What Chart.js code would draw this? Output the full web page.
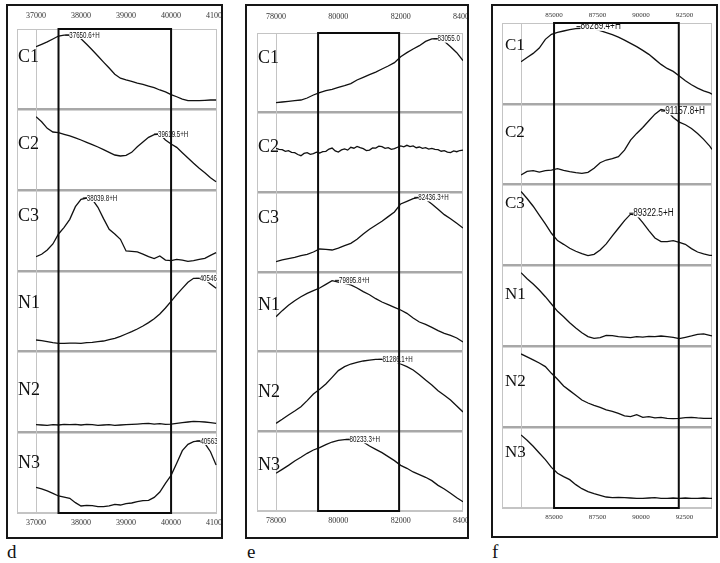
<!DOCTYPE html>
<html>
<head>
<meta charset="utf-8">
<script src="https://cdn.jsdelivr.net/npm/chart.js@4.4.0/dist/chart.umd.min.js"></script>
<style>
  body { margin: 0; background: #fff; width: 720px; height: 563px; position: relative; overflow: hidden; }
  .panel { position: absolute; border: 2px solid #161616; background: #fff; }
  .panel canvas { display: block; }
  .tag { position: absolute; font: 19px/19px "Liberation Serif", serif; color: #111; }
</style>
</head>
<body>
<div class="panel" style="left:6px;top:4px"><canvas id="pd" width="213" height="531"></canvas></div>
<div class="panel" style="left:245px;top:4px"><canvas id="pe" width="220" height="531"></canvas></div>
<div class="panel" style="left:491px;top:4px"><canvas id="pf" width="223" height="530"></canvas></div>
<div class="tag" style="left:7px;top:542px">d</div>
<div class="tag" style="left:247px;top:542px">e</div>
<div class="tag" style="left:492px;top:542px">f</div>

<script>
// rows of every panel, top to bottom
var rowNames = ['C1', 'C2', 'C3', 'N1', 'N2', 'N3'];

// panel d  (values are % of the row height)
var dTicks = [37000, 38000, 39000, 40000, 41000];
var dX = [37000, 37125, 37250, 37375, 37500, 37625, 37750, 37875, 38000, 38125, 38250, 38375, 38500, 38625, 38750, 38875, 39000,
          39125, 39250, 39375, 39500, 39625, 39750, 39875, 40000, 40125, 40250, 40375, 40500, 40625, 40750, 40875, 41000];
var dC1 = [78, 81, 84, 87.6, 91.3, 92.5, 92.5, 91.3, 88, 81, 74, 66.5, 59, 51.6, 44, 39, 36.8, 35, 33, 31.4, 29.3, 27.3, 24.4, 22, 18.6, 16, 13.2, 11.2, 11.2, 11.2, 11.6, 12, 12];
var dC2 = [91.3, 85, 76.9, 72.3, 71.5, 69.4, 67.4, 64.9, 62.4, 59.5, 56.6, 53.7, 50.4, 47.1, 43.8, 42.6, 43.4, 47.1, 54.1, 59.9, 65.7, 69, 69.8, 62.4, 57.4, 53.3, 46.7, 40, 33.5, 27.3, 21.9, 15.7, 10.7];
var dC3 = [17.8, 20.7, 26, 33.5, 45.9, 54.1, 64, 79.8, 88.8, 90.5, 88.8, 79, 64.9, 51.7, 45.9, 39.3, 24.8, 24.4, 23.6, 21, 17.8, 15.3, 18.6, 13.6, 12.8, 14.5, 13.6, 12, 12.8, 14.5, 15.7, 19.4, 22.7];
var dN1 = [14.5, 13.6, 12.4, 11.2, 10.3, 10.3, 10.7, 10.7, 10.3, 11.2, 11.6, 12.4, 13.2, 14.9, 16.5, 19, 21.9, 24.8, 28.1, 31.8, 36, 40.9, 46.7, 54.1, 62.4, 70.7, 78.5, 86, 90.9, 90.9, 89.7, 83.9, 78.5];
var dN2 = [9.5, 9.1, 8.7, 9.5, 9.1, 9.9, 9.5, 9.9, 9.1, 9.9, 9.5, 8.7, 9.1, 9.5, 8.7, 9.1, 9.5, 9.9, 10.3, 10.7, 11.2, 10.3, 10.7, 9.9, 10.3, 11.2, 12, 12.8, 13.6, 13.2, 12.8, 12, 11.2];
var dN3 = [31.8, 29.8, 27.3, 24.4, 21.1, 19.8, 18.2, 12.8, 8.7, 9.5, 9.1, 7.9, 7.9, 8.7, 10.7, 9.9, 11.6, 12.4, 14, 15.3, 15.7, 19.4, 26, 36.8, 46.7, 61.6, 77.3, 85.1, 88.4, 89.3, 86.4, 76, 59.5];
var dPeaks = [[0, 37650.6, 92.5, '37650.6+H'], [1, 39619.5, 69.8, '39619.5+H'], [2, 38039.8, 90.5, '38039.8+H'], [3, 40546, 90.9, '40546'], [5, 40563, 89.3, '40563']];
var dBox = [37500, 40000];

// panel e
var eTicks = [78000, 80000, 82000, 84000];
var eX = [78000, 78200, 78400, 78600, 78800, 79000, 79200, 79400, 79600, 79800, 80000, 80200, 80400, 80600, 80800, 81000,
          81200, 81400, 81600, 81800, 82000, 82200, 82400, 82600, 82800, 83000, 83200, 83400, 83600, 83800, 84000];
var eC1 = [12.6, 13.4, 14.2, 15.1, 15.9, 18.4, 22.2, 25.1, 27.6, 29.3, 31.8, 33.9, 36.4, 41, 44.4, 47.7, 51, 54.8, 58.6, 62.8, 70.3, 75.3, 79.9, 84.1, 89.5, 92.5, 92.9, 89.5, 82.8, 75.3, 65.3];
// C2 is a noisy trace, read on a finer step
var eC2X = [78000, 78100, 78200, 78300, 78400, 78500, 78600, 78700, 78800, 78900, 79000, 79100, 79200, 79300, 79400, 79500,
            79600, 79700, 79800, 79900, 80000, 80100, 80200, 80300, 80400, 80500, 80600, 80700, 80800, 80900, 81000, 81100,
            81200, 81300, 81400, 81500, 81600, 81700, 81800, 81900, 82000, 82100, 82200, 82300, 82400, 82500, 82600, 82700,
            82800, 82900, 83000, 83100, 83200, 83300, 83400, 83500, 83600, 83700, 83800, 83900, 84000];
var eC2 = [55.2, 54, 53.6, 51.5, 52.3, 50.2, 49.8, 47.5, 46, 48.8, 49.8, 47.6, 48.5, 50.5, 49.4, 51.2,
           51.5, 54.3, 55.6, 52, 50.6, 53.2, 54.4, 53, 56.5, 55.4, 57.7, 56, 54.8, 52.4, 53.1, 55.8,
           55.6, 57.9, 57.3, 55.2, 56.1, 54, 54.8, 56.6, 58.2, 57.2, 59, 57.4, 58.2, 56, 56.9, 55.3,
           56.1, 54.3, 55.2, 53.8, 53.6, 51.6, 52.3, 50.4, 49.8, 51.9, 51, 52.5, 53.1];
var eC3 = [13, 15.1, 16.7, 18.4, 20.5, 22.2, 25.1, 28.9, 28.5, 27.6, 30.1, 33.1, 36, 41, 47.7, 53.6, 58.6, 63.6, 69.5, 75.3, 85.4, 88.7, 92.1, 93.7, 91.2, 85.4, 78.7, 72, 66.9, 61.1, 55.2];
var eN1 = [43.9, 51.5, 58.2, 64, 69, 73.2, 76.6, 79.9, 84.5, 89.1, 87.4, 85.8, 83.7, 79.9, 75.3, 71.5, 66.5, 62.3, 59, 55.6, 52.3, 48.1, 42.3, 37.2, 34.3, 30.5, 26.4, 23, 20.5, 17.2, 12.1];
var eN2 = [10, 15.1, 20.5, 25.5, 30.8, 38.5, 46.9, 52.7, 59.4, 67.8, 76.2, 81.2, 84.5, 86.6, 88.3, 89.5, 90.4, 90.4, 89.5, 87.9, 84.5, 81.2, 77, 71.1, 64.4, 58.2, 51, 45.2, 39.3, 31.8, 24.3];
var eN3 = [47.3, 52.3, 57.3, 62.8, 67.4, 72.4, 76.6, 79.5, 83.3, 86.6, 88.7, 89.5, 90, 89.1, 86.6, 81.6, 77.4, 73.2, 68.2, 63.2, 57.3, 53.6, 49, 45.6, 42.3, 38.1, 32.2, 27.6, 22.2, 16.7, 11.7];
var ePeaks = [[0, 83055, 92.9, '83055.0'], [2, 82436.3, 93.7, '82436.3+H'], [3, 79895.8, 89.5, '79895.8+H'], [4, 81286.1, 90.4, '81286.1+H'], [5, 80233.3, 90, '80233.3+H']];
var eBox = [79350, 81950];

// panel f
var fTicks = [85000, 87500, 90000, 92500];
var fX = [83100, 83450, 83800, 84150, 84500, 84850, 85200, 85550, 85900, 86250, 86600, 86950, 87300, 87650, 88000, 88350, 88700,
          89050, 89400, 89750, 90100, 90450, 90800, 91150, 91500, 91850, 92200, 92550, 92900, 93250, 93600, 93950, 94080];
var fC1 = [52.1, 57.4, 62.4, 69, 79.8, 86, 88.4, 90.1, 91.7, 93, 93.4, 93.4, 92.6, 90.5, 88, 85.5, 82.6, 78.9, 74.8, 70.7, 66.1, 61.2, 55, 48.8, 43.8, 40.1, 34.3, 28.5, 23.6, 19.4, 16.1, 13.6, 12];
var fC2 = [11.9, 16.5, 17.3, 15.6, 17.3, 18.1, 19.8, 17.7, 16, 14.8, 14, 15.2, 20.2, 27.2, 30.5, 32.1, 34.6, 42.8, 55.1, 63.4, 70.8, 79, 87.2, 93, 91.4, 83.1, 77.4, 74.1, 69.5, 63.4, 56, 47.7, 43.6];
var fC3 = [91.5, 82.9, 73.3, 62.2, 51.4, 39.9, 30.8, 26.2, 21.3, 17.6, 14.7, 12.2, 13.8, 19.2, 26.7, 36.6, 46.1, 55.6, 63.5, 62, 53.1, 43.2, 34.1, 29.5, 29.5, 30.8, 28.7, 26.2, 20.9, 16.7, 14.3, 12.6, 12.6];
var fN1 = [91.1, 83.7, 77.1, 69.7, 61.4, 52.4, 43.3, 36.7, 29.3, 22.7, 16.9, 12, 9.9, 10.7, 13.6, 13.2, 12, 11.5, 10.7, 12, 11.5, 12.4, 12, 12.8, 12, 11.1, 9.5, 11.1, 12.8, 14.8, 15.3, 13.6, 12.8];
var fN2 = [90.6, 87, 83.2, 79.4, 74.9, 66.6, 59.2, 50.9, 45.2, 39.4, 33.6, 29.9, 27, 24.6, 21.3, 19.6, 17.1, 13.9, 13, 15.5, 12.2, 13, 11.4, 12.2, 11, 10.6, 11, 11.8, 12.2, 11.4, 11, 11, 11];
var fN3 = [90.3, 83.7, 76.3, 68.1, 59.8, 50.3, 42.9, 38.8, 35.1, 28.9, 23.9, 20.2, 17.7, 15.7, 13.6, 12.8, 13.2, 12.8, 12.4, 12, 12, 12.4, 12.8, 12, 12, 12.4, 12, 12.4, 12, 12, 12.4, 12, 12];
var fPeaks = [[0, 86289.4, 95.5, '86289.4+H'], [1, 91157.8, 91, '91157.8+H'], [2, 89322.5, 64.7, '89322.5+H']];
var fBox = [85000, 92170];

var LABEL_COL = 19;

// frame, box, peak labels and row names
var decor = {
  id: 'decor',
  beforeDatasetsDraw: function (chart) {
    var a = chart.chartArea, ctx = chart.ctx;
    ctx.save();
    ctx.strokeStyle = '#c4c4c4';
    ctx.lineWidth = 1;
    ctx.strokeRect(a.left - LABEL_COL + 0.5, a.top + 0.5, a.right - a.left + LABEL_COL - 1, a.bottom - a.top - 1);
    ctx.restore();
  },
  afterDatasetsDraw: function (chart, args, o) {
    var a = chart.chartArea, ctx = chart.ctx, xs = chart.scales.x, ys = chart.scales.y;
    ctx.save();
    ctx.beginPath();
    ctx.rect(a.left, a.top, a.right - a.left, a.bottom - a.top);
    ctx.clip();
    ctx.font = o.peakSize + 'px "Liberation Sans", Arial, sans-serif';
    ctx.textBaseline = 'middle';
    o.peaks.forEach(function (p) {
      var px = xs.getPixelForValue(p[1]);
      var py = ys.getPixelForValue(p[2] + (5 - p[0]) * 100);
      var w = ctx.measureText(p[3]).width * o.peakSquash;
      var tx = px + 4;
      ctx.fillStyle = '#fff';
      ctx.fillRect(tx, py - o.peakSize * 0.42, w + 1, o.peakSize * 0.84);
      ctx.strokeStyle = '#111';
      ctx.lineWidth = 1;
      ctx.beginPath();
      ctx.moveTo(px, py);
      ctx.lineTo(tx, py);
      ctx.stroke();
      ctx.fillStyle = '#111';
      ctx.fillText(p[3], tx, py, w);
    });
    ctx.restore();

    ctx.save();
    ctx.strokeStyle = '#0c0c0c';
    ctx.lineWidth = 2;
    var x0 = xs.getPixelForValue(o.box[0]), x1 = xs.getPixelForValue(o.box[1]);
    ctx.strokeRect(x0, a.top, x1 - x0, a.bottom - a.top);
    ctx.restore();
  },
  afterDraw: function (chart, args, o) {
    var a = chart.chartArea, ctx = chart.ctx, ys = chart.scales.y;
    ctx.save();
    ctx.fillStyle = '#111';
    ctx.font = o.labelSize + 'px "Liberation Serif", "Times New Roman", serif';
    ctx.textBaseline = 'alphabetic';
    rowNames.forEach(function (name, r) {
      var top = ys.getPixelForValue((6 - r) * 100);
      ctx.fillText(name, a.left - LABEL_COL + o.labelX, top + o.labelBase[r]);
    });
    ctx.restore();
  }
};

function isEdge(c) {
  return c.tick && (c.tick.value === 0 || c.tick.value === 600);
}

function xAxis(pos, ticks, st) {
  return {
    type: 'linear',
    position: pos,
    min: st.min,
    max: st.max,
    grid: { display: false, drawTicks: false },
    border: { display: false },
    afterBuildTicks: function (s) {
      s.ticks = ticks.map(function (v) { return { value: v }; });
    },
    ticks: {
      autoSkip: false,
      maxRotation: 0,
      minRotation: 0,
      padding: pos === 'top' ? st.topPad : st.botPad,
      color: '#333',
      font: { family: '"Liberation Serif", serif', size: st.tickSize },
      callback: function (v) { return String(v); }
    },
    afterFit: function (s) {
      s.height = pos === 'top' ? st.topH : st.botH;
      s.paddingLeft = 0;
      s.paddingRight = 0;
    }
  };
}

function buildPanel(id, xsList, series, ticks, peaks, box, st) {
  var datasets = series.map(function (vals, r) {
    var xs = xsList[r];
    return {
      data: vals.map(function (v, i) { return { x: xs[i], y: v + (5 - r) * 100 }; }),
      borderColor: '#111',
      borderWidth: 1.3,
      pointRadius: 0,
      tension: 0,
      fill: false
    };
  });
  return new Chart(document.getElementById(id), {
    type: 'line',
    data: { datasets: datasets },
    options: {
      responsive: false,
      animation: false,
      layout: { padding: { left: st.padL, right: st.padR, top: 0, bottom: 0 } },
      plugins: {
        legend: { display: false },
        tooltip: { enabled: false },
        decor: { peaks: peaks, box: box, peakSize: st.peakSize, peakSquash: st.peakSquash,
                 labelSize: st.labelSize, labelBase: st.labelBase, labelX: st.labelX }
      },
      scales: {
        x: xAxis('bottom', ticks, st),
        x2: xAxis('top', ticks, st),
        y: {
          type: 'linear',
          position: 'left',
          min: 0,
          max: 600,
          ticks: { display: false, stepSize: 100 },
          grid: {
            drawTicks: true,
            tickLength: LABEL_COL,
            color: function (c) { return isEdge(c) ? '#c4c4c4' : '#a8a8a8'; },
            lineWidth: function (c) { return isEdge(c) ? 1 : 2.5; }
          },
          border: { display: true, color: '#c4c4c4', width: 1 },
          afterFit: function (s) {
            s.width = LABEL_COL;
            s.paddingTop = 0;
            s.paddingBottom = 0;
          }
        }
      }
    },
    plugins: [decor]
  });
}

buildPanel('pd', [dX, dX, dX, dX, dX, dX], [dC1, dC2, dC3, dN1, dN2, dN3], dTicks, dPeaks, dBox, {
  min: 37000, max: 41020, padL: 9, padR: 4, topH: 23, botH: 24, topPad: 8, botPad: 5,
  tickSize: 8, labelSize: 18, peakSize: 9.5, peakSquash: 0.65, labelBase: [33, 39, 31, 37, 43, 36], labelX: 1
});
buildPanel('pe', [eX, eC2X, eX, eX, eX, eX], [eC1, eC2, eC3, eN1, eN2, eN3], eTicks, ePeaks, eBox, {
  min: 78000, max: 84000, padL: 10, padR: 4, topH: 27, botH: 26, topPad: 11, botPad: 5,
  tickSize: 8, labelSize: 18, peakSize: 9.5, peakSquash: 0.65, labelBase: [30, 39, 31, 38, 45, 39], labelX: 1
});
buildPanel('pf', [fX, fX, fX, fX, fX, fX], [fC1, fC2, fC3, fN1, fN2, fN3], fTicks, fPeaks, fBox, {
  min: 83100, max: 94080, padL: 9, padR: 4, topH: 17, botH: 28, topPad: 4, botPad: 5,
  tickSize: 7, labelSize: 17, peakSize: 10, peakSquash: 0.82, labelBase: [27, 33, 23, 33, 40, 30], labelX: 3
});
</script>
</body>
</html>
